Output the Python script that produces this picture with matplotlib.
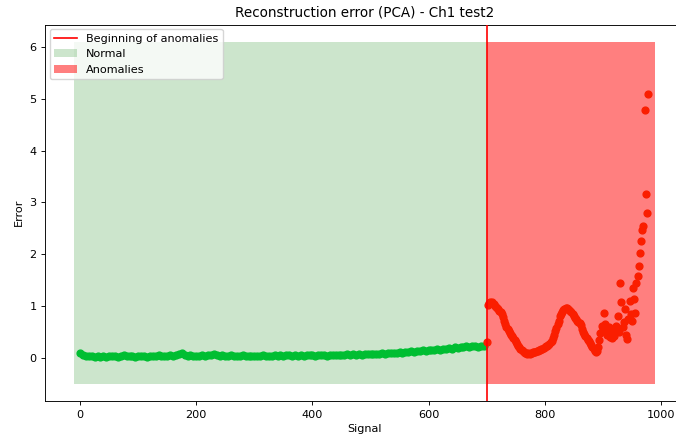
import matplotlib
matplotlib.use("Agg")
import matplotlib.pyplot as plt
import matplotlib.patches as mpatches
import matplotlib.lines as mlines
import numpy as np

# reconstruction error per signal index
normal_x = np.arange(0, 700, 5)
normal_err = [
    0.10, 0.06, 0.04, 0.03, 0.03, 0.02, 0.03, 0.02, 0.03, 0.02,
    0.03, 0.04, 0.03, 0.02, 0.04, 0.05, 0.03, 0.04, 0.03, 0.02,
    0.03, 0.04, 0.03, 0.02, 0.03, 0.04, 0.03, 0.05, 0.04, 0.03,
    0.04, 0.05, 0.04, 0.06, 0.08, 0.10, 0.06, 0.04, 0.05, 0.04,
    0.03, 0.04, 0.05, 0.04, 0.06, 0.05, 0.08, 0.05, 0.04, 0.05,
    0.04, 0.03, 0.05, 0.04, 0.03, 0.04, 0.05, 0.04, 0.03, 0.04,
    0.04, 0.03, 0.04, 0.05, 0.04, 0.03, 0.04, 0.05, 0.04, 0.05,
    0.04, 0.05, 0.06, 0.04, 0.05, 0.04, 0.05, 0.04, 0.05, 0.06,
    0.05, 0.04, 0.05, 0.06, 0.05, 0.04, 0.05, 0.06, 0.05, 0.06,
    0.05, 0.06, 0.07, 0.06, 0.07, 0.06, 0.07, 0.06, 0.07, 0.08,
    0.07, 0.08, 0.07, 0.08, 0.09, 0.08, 0.09, 0.10, 0.09, 0.10,
    0.11, 0.10, 0.12, 0.11, 0.13, 0.12, 0.14, 0.13, 0.15, 0.14,
    0.16, 0.15, 0.16, 0.17, 0.16, 0.18, 0.17, 0.19, 0.18, 0.20,
    0.19, 0.21, 0.20, 0.22, 0.21, 0.23, 0.22, 0.21, 0.23, 0.22,
]

anomaly_x = np.arange(700, 980, 2)
anomaly_err = [
    0.30, 1.02, 1.06, 1.08, 1.05, 1.07, 1.03, 1.00, 0.98, 0.97,
    0.94, 0.90, 0.88, 0.85, 0.78, 0.72, 0.66, 0.60, 0.56, 0.52,
    0.48, 0.45, 0.42, 0.39, 0.35, 0.31, 0.27, 0.23, 0.20, 0.17,
    0.15, 0.13, 0.11, 0.10, 0.09, 0.08, 0.09, 0.08, 0.10, 0.09,
    0.11, 0.12, 0.11, 0.13, 0.14, 0.15, 0.16, 0.17, 0.18, 0.19,
    0.21, 0.22, 0.23, 0.25, 0.27, 0.30, 0.32, 0.38, 0.45, 0.52,
    0.58, 0.66, 0.72, 0.80, 0.84, 0.88, 0.92, 0.95, 0.96, 0.97,
    0.95, 0.93, 0.90, 0.88, 0.84, 0.80, 0.76, 0.74, 0.72, 0.70,
    0.68, 0.64, 0.56, 0.50, 0.46, 0.42, 0.38, 0.35, 0.32, 0.28,
    0.24, 0.20, 0.17, 0.14, 0.12, 0.14, 0.20, 0.35, 0.48, 0.62,
    0.55, 0.87, 0.66, 0.52, 0.45, 0.60, 0.40, 0.56, 0.38, 0.47,
    0.42, 0.62, 0.55, 0.81, 0.50, 1.44, 1.07, 0.60, 0.70, 0.95,
    0.45, 0.37, 0.75, 1.10, 0.85, 0.72, 1.34, 1.14, 0.87, 1.45,
    1.57, 1.78, 2.03, 2.25, 2.47, 2.55, 4.79, 3.16, 2.80, 5.09,
]

anomaly_start = 700
band_low, band_high = -0.5, 6.1
band_left, band_right = -10, 990

plt.rcParams['font.size'] = 8.1
plt.rcParams['axes.linewidth'] = 0.65
plt.rcParams['xtick.major.width'] = 0.65
plt.rcParams['ytick.major.width'] = 0.65
plt.rcParams['xtick.major.size'] = 2.9
plt.rcParams['ytick.major.size'] = 2.9

fig = plt.figure(figsize=(6.76, 4.40), dpi=100)
# axes run a bit past the right edge, as in the cropped reference
ax = fig.add_axes([0.067, 0.089, 0.945, 0.855])

ax.fill_between([band_left, anomaly_start], band_low, band_high,
                color='green', alpha=0.2, linewidth=0)
ax.fill_between([anomaly_start, band_right], band_low, band_high,
                color='red', alpha=0.5, linewidth=0)
ax.scatter(normal_x, normal_err, s=24, color='#00be32', zorder=3)
ax.scatter(anomaly_x, anomaly_err, s=24, color='#fa1e00', zorder=3)
ax.axvline(anomaly_start, color='red', linewidth=1.2, zorder=4)

handles = [
    mlines.Line2D([], [], color='red', linewidth=1.2, label='Beginning of anomalies'),
    mpatches.Patch(color='green', alpha=0.2, linewidth=0, label='Normal'),
    mpatches.Patch(color='red', alpha=0.5, linewidth=0, label='Anomalies'),
]
ax.legend(handles=handles, loc='upper left', borderaxespad=0.4)

ax.set_title('Reconstruction error (PCA) - Ch1 test2', fontsize=9.75)
ax.set_xlabel('Signal', labelpad=3)
ax.set_ylabel('Error')

fig.savefig('out.png', dpi=100)
